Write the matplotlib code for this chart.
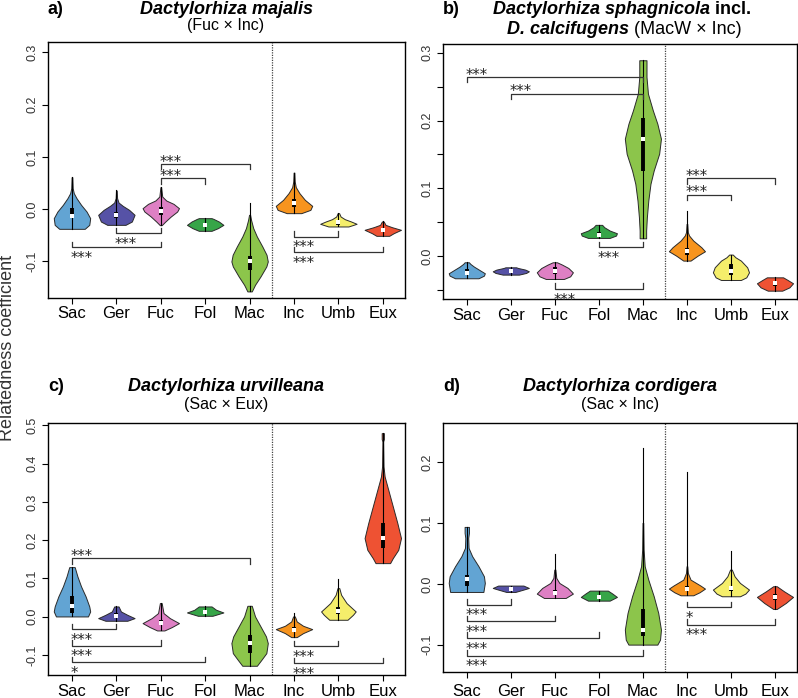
import matplotlib
matplotlib.use('Agg')
import matplotlib.pyplot as plt

plt.rcParams['font.family'] = ['Liberation Sans', 'DejaVu Sans']

categories = ['Sac', 'Ger', 'Fuc', 'Fol', 'Mac', 'Inc', 'Umb', 'Eux']
colors = ['#62a4d3', '#5652a6', '#de80c4', '#37a548', '#8cc54b',
          '#f7941e', '#f5ee6b', '#ee5233']

# violin outlines: (value, relative half width)
a_shape = [
    [(-0.0376, 0.7), (-0.030, 0.95), (-0.0172, 1.0), (-0.0045, 0.8), (0.0083, 0.5),
     (0.021, 0.25), (0.0306, 0.1), (0.040, 0.04), (0.061, 0.02)],
    [(-0.030, 0.5), (-0.0236, 0.85), (-0.0108, 1.0), (-0.0013, 0.7), (0.0064, 0.35),
     (0.0127, 0.12), (0.021, 0.04), (0.0357, 0.02)],
    [(-0.0306, 0.05), (-0.0236, 0.25), (-0.014, 0.55), (-0.0045, 0.9), (0.0019, 1.0),
     (0.0102, 0.7), (0.0166, 0.3), (0.0242, 0.08), (0.0421, 0.02)],
    [(-0.0414, 0.35), (-0.0363, 0.7), (-0.030, 1.0), (-0.0236, 0.75), (-0.0185, 0.45),
     (-0.0172, 0.35)],
    [(-0.1574, 0.12), (-0.1447, 0.3), (-0.1287, 0.6), (-0.1096, 0.92), (-0.1001, 1.0),
     (-0.0873, 0.93), (-0.0714, 0.7), (-0.0523, 0.4), (-0.0363, 0.2), (-0.0204, 0.08),
     (-0.0108, 0.03)],
    [(-0.0076, 0.4), (-0.0013, 0.9), (0.0064, 1.0), (0.0178, 0.6), (0.0306, 0.3),
     (0.0421, 0.1), (0.0529, 0.04), (0.070, 0.02)],
    [(-0.0331, 0.55), (-0.028, 1.0), (-0.0236, 0.7), (-0.0191, 0.35), (-0.014, 0.12),
     (-0.0076, 0.04)],
    [(-0.051, 0.35), (-0.0459, 0.6), (-0.0395, 1.0), (-0.0344, 0.5), (-0.030, 0.15),
     (-0.0236, 0.05)],
]
# (low, q1, median, q3, high)
a_box = [(-0.0376, -0.017, -0.014, 0.002, 0.061), (-0.030, -0.017, -0.012, -0.005, 0.036),
         (-0.031, -0.011, -0.003, 0.004, 0.042), (-0.0414, -0.034, -0.030, -0.026, -0.0172),
         (-0.157, -0.116, -0.100, -0.089, 0.0115), (-0.0076, 0.004, 0.0115, 0.019, 0.070),
         (-0.033, -0.030, -0.0236, -0.022, -0.0076), (-0.051, -0.043, -0.0395, -0.036, -0.0217)]
# (from, to, level, side, stars)
a_sig = [(3, 5, 0.0867, 'up', '***'), (3, 4, 0.0593, 'up', '***'),
         (2, 3, -0.0459, 'down', '***'), (1, 3, -0.0733, 'down', '***'),
         (6, 7, -0.0523, 'down', '***'), (6, 8, -0.0822, 'down', '***')]

b_shape = [
    [(-0.033, 0.65), (-0.0291, 0.95), (-0.0256, 1.0), (-0.0207, 0.7), (-0.0158, 0.4),
     (-0.0118, 0.2), (-0.0094, 0.12)],
    [(-0.0276, 0.45), (-0.0251, 0.85), (-0.0227, 1.0), (-0.0202, 0.8), (-0.0178, 0.4),
     (-0.0168, 0.3)],
    [(-0.034, 0.5), (-0.0301, 0.85), (-0.0242, 1.0), (-0.0178, 0.75), (-0.0128, 0.4),
     (-0.0094, 0.12)],
    [(0.0266, 0.6), (0.0301, 0.95), (0.0335, 1.0), (0.0375, 0.6), (0.0424, 0.3),
     (0.0459, 0.18)],
    [(0.0261, 0.18), (0.0375, 0.18), (0.0572, 0.22), (0.0819, 0.3), (0.1065, 0.42),
     (0.1262, 0.6), (0.1509, 0.9), (0.1731, 1.0), (0.1953, 0.8), (0.215, 0.55),
     (0.2396, 0.28), (0.2643, 0.2), (0.289, 0.2)],
    [(-0.0069, 0.2), (0.0005, 0.6), (0.0069, 1.0), (0.0128, 0.8), (0.0227, 0.35),
     (0.0301, 0.12), (0.035, 0.05), (0.0473, 0.02)],
    [(-0.0355, 0.55), (-0.0316, 0.85), (-0.0242, 1.0), (-0.0168, 0.9), (-0.0069, 0.55),
     (-0.002, 0.25), (0.002, 0.1)],
    [(-0.0513, 0.4), (-0.0464, 0.8), (-0.0404, 1.0), (-0.0355, 0.7), (-0.0316, 0.45)],
]
b_box = [(-0.033, -0.027, -0.0256, -0.020, -0.0094), (-0.0276, -0.025, -0.0227, -0.020, -0.0168),
         (-0.034, -0.026, -0.0217, -0.017, -0.0094), (0.0266, 0.029, 0.0316, 0.035, 0.0459),
         (0.0261, 0.126, 0.172, 0.204, 0.289), (-0.0069, 0.002, 0.0069, 0.012, 0.067),
         (-0.0355, -0.028, -0.0217, -0.012, 0.002), (-0.0513, -0.044, -0.0404, -0.037, -0.0316)]
b_sig = [(1, 5, 0.2643, 'up', '***'), (2, 5, 0.2396, 'up', '***'),
         (4, 5, 0.0128, 'down', '***'), (3, 5, -0.0488, 'down', '***'),
         (6, 8, 0.1149, 'up', '***'), (6, 7, 0.0902, 'up', '***')]

c_shape = [
    [(0.0009, 0.88), (0.0139, 1.0), (0.027, 0.95), (0.0531, 0.75), (0.0792, 0.5),
     (0.1053, 0.3), (0.1297, 0.15)],
    [(-0.0104, 0.6), (-0.0035, 1.0), (0.0052, 0.6), (0.0139, 0.25), (0.027, 0.12)],
    [(-0.0357, 0.2), (-0.027, 0.6), (-0.0165, 1.0), (-0.0035, 0.5), (0.0096, 0.15),
     (0.0226, 0.1), (0.0357, 0.05)],
    [(0.0026, 0.4), (0.0113, 1.0), (0.0183, 0.6), (0.027, 0.35)],
    [(-0.1279, 0.4), (-0.1123, 0.65), (-0.0949, 0.92), (-0.0688, 1.0), (-0.0513, 0.9),
     (-0.0252, 0.6), (0.0009, 0.3), (0.0287, 0.12)],
    [(-0.0531, 0.15), (-0.0426, 0.5), (-0.0322, 1.0), (-0.0235, 0.5), (-0.0122, 0.15),
     (0.0009, 0.05)],
    [(-0.0078, 0.5), (0.0052, 0.8), (0.0139, 0.95), (0.0357, 0.45), (0.0574, 0.15),
     (0.0748, 0.05)],
    [(0.1401, 0.4), (0.1532, 0.55), (0.1749, 0.85), (0.2054, 1.0), (0.2446, 0.8),
     (0.2881, 0.55), (0.3316, 0.3), (0.3664, 0.1), (0.3925, 0.04), (0.4578, 0.02),
     (0.4639, 0.06), (0.4795, 0.06)],
]
c_box = [(0.0009, 0.0096, 0.027, 0.053, 0.1297), (-0.0104, -0.004, 0.0026, 0.010, 0.027),
         (-0.0357, -0.022, -0.0165, -0.008, 0.0357), (0.0026, 0.008, 0.0113, 0.015, 0.027),
         (-0.1279, -0.095, -0.069, -0.047, 0.0287), (-0.0531, -0.040, -0.034, -0.027, 0.0096),
         (-0.0078, 0.006, 0.0157, 0.025, 0.098), (0.1401, 0.179, 0.205, 0.245, 0.4795)]
c_sig = [(1, 5, 0.1532, 'up', '***'), (1, 2, -0.0322, 'down', '***'),
         (1, 3, -0.0757, 'down', '***'), (1, 4, -0.1192, 'down', '*'),
         (6, 7, -0.0775, 'down', '***'), (6, 8, -0.121, 'down', '***')]

d_shape = [
    [(-0.0132, 0.92), (0.0016, 1.0), (0.0126, 0.95), (0.0291, 0.65), (0.0456, 0.3),
     (0.0593, 0.1), (0.0758, 0.08), (0.084, 0.12), (0.0939, 0.12)],
    [(-0.0132, 0.25), (-0.0093, 0.7), (-0.0066, 1.0), (-0.0027, 0.7)],
    [(-0.0231, 0.6), (-0.0159, 1.0), (-0.0066, 0.7), (0.0016, 0.25), (0.0099, 0.08),
     (0.0236, 0.03)],
    [(-0.0275, 0.6), (-0.0214, 1.0), (-0.0159, 0.75), (-0.011, 0.5)],
    [(-0.0999, 0.8), (-0.0917, 0.95), (-0.0752, 1.0), (-0.0478, 0.85), (-0.0203, 0.6),
     (0.0071, 0.3), (0.0291, 0.1), (0.0566, 0.04), (0.1005, 0.02)],
    [(-0.0187, 0.35), (-0.0137, 0.7), (-0.0077, 1.0), (-0.0027, 0.75), (0.0071, 0.2),
     (0.0181, 0.05), (0.0291, 0.02)],
    [(-0.0203, 0.5), (-0.0159, 0.8), (-0.0093, 1.0), (0.0016, 0.5), (0.0126, 0.2),
     (0.0236, 0.05)],
    [(-0.0412, 0.1), (-0.0313, 0.6), (-0.0214, 1.0), (-0.0121, 0.5), (-0.0038, 0.1)],
]
d_box = [(-0.0132, -0.004, 0.008, 0.015, 0.0939), (-0.0132, -0.010, -0.0077, -0.005, -0.0027),
         (-0.0231, -0.019, -0.0148, -0.010, 0.0494), (-0.0275, -0.024, -0.0214, -0.018, -0.011),
         (-0.0999, -0.086, -0.0752, -0.042, 0.2241), (-0.0187, -0.012, -0.0077, -0.003, 0.184),
         (-0.0203, -0.012, -0.007, -0.003, 0.0549), (-0.0412, -0.027, -0.0214, -0.017, -0.0038)]
d_sig = [(1, 2, -0.034, 'down', '***'), (1, 3, -0.0615, 'down', '***'),
         (1, 4, -0.089, 'down', '***'), (1, 5, -0.1181, 'down', '***'),
         (6, 7, -0.0384, 'down', '*'), (6, 8, -0.067, 'down', '***')]

W, H = 798, 698
fig = plt.figure(figsize=(W / 100, H / 100), dpi=100)
renderer = fig.canvas.get_renderer()

HALF = 0.41


def panel(box_px, ylim, yticks, minor, shape, boxes, sig, labelpad):
    l, t, r, b = box_px
    ax = fig.add_axes([l / W, 1 - b / H, (r - l) / W, (b - t) / H])
    ax.set_xlim(0.46, 8.5)
    ax.set_ylim(*ylim)
    for i, (prof, st, col) in enumerate(zip(shape, boxes, colors)):
        x = i + 1
        ys = [p[0] for p in prof]
        ws = [p[1] * HALF for p in prof]
        ax.fill_betweenx(ys, [x - w for w in ws], [x + w for w in ws],
                         facecolor=col, edgecolor='#2a2a2a', linewidth=0.7, zorder=2)
        lo, q1, med, q3, hi = st
        ax.plot([x, x], [lo, hi], color='black', lw=0.8, zorder=3)
        ax.plot([x, x], [q1, q3], color='black', lw=2.8, solid_capstyle='butt', zorder=4)
        ax.plot([x], [med], marker='s', color='white', ms=2.4, mew=0, zorder=5)
    ax.axvline(5.5, color='#444444', lw=0.9, linestyle=(0, (1, 1)), zorder=1)
    # brackets with significance stars
    tick = 5.5 * (ylim[1] - ylim[0]) / (b - t)
    for i, j, y, side, lab in sig:
        d = -tick if side == 'up' else tick
        ax.plot([i, i, j, j], [y + d, y, y, y + d], color='#333333', lw=0.9, zorder=3)
        off = -1.9 if side == 'up' else -11.3
        ax.annotate(lab, (i, y), xytext=(-1, off), textcoords='offset points',
                    ha='left', va='baseline', fontsize=10.5, color='#222222',
                    family='DejaVu Sans')
    ax.set_xticks(range(1, 9))
    ax.set_xticklabels(categories, fontsize=12)
    ax.set_yticks(yticks)
    ax.set_yticklabels(['%.1f' % v for v in yticks], fontsize=9, color='#333333',
                       rotation=90, va='center')
    if minor:
        ax.set_yticks(minor, minor=True)
        ax.tick_params(axis='y', which='minor', length=4, width=0.8, direction='out')
    ax.tick_params(axis='x', length=4, width=0.8, direction='out', pad=labelpad)
    ax.tick_params(axis='y', length=4, width=0.8, direction='out', pad=3)
    for s in ax.spines.values():
        s.set_linewidth(1.0)
    return ax


def line(pieces, xc, y_px, size):
    texts = []
    for s, weight, style in pieces:
        texts.append(fig.text(0, 0, s, fontsize=size, fontweight=weight,
                              fontstyle=style, va='baseline', ha='left'))
    widths = [tx.get_window_extent(renderer).width for tx in texts]
    x = xc - sum(widths) / 2
    for tx, w in zip(texts, widths):
        tx.set_position((x / W, 1 - y_px / H))
        x += w


panel((48, 42, 405, 298), (-0.170, 0.320), [-0.1, 0.0, 0.1, 0.2, 0.3], None,
      a_shape, a_box, a_sig, 1.5)
panel((443, 44, 797, 299), (-0.0636, 0.313), [0.0, 0.1, 0.2, 0.3],
      [-0.05, 0.05, 0.15, 0.25], b_shape, b_box, b_sig, 2.7)
panel((48, 423, 405, 675), (-0.152, 0.506), [-0.1, 0.0, 0.1, 0.2, 0.3, 0.4, 0.5], None,
      c_shape, c_box, c_sig, 2.5)
panel((443, 423, 797, 672), (-0.145, 0.265), [-0.1, 0.0, 0.1, 0.2], None,
      d_shape, d_box, d_sig, 4.5)

# panel letters and titles
for lab, x, y in [('a)', 48, 13.5), ('b)', 443, 13.5), ('c)', 48, 391), ('d)', 443, 391)]:
    fig.text(x / W, 1 - y / H, lab, fontsize=13, fontweight='bold', va='baseline')

line([('Dactylorhiza majalis', 'bold', 'italic')], 226, 13.5, 13)
line([('(Fuc × Inc)', 'normal', 'normal')], 226, 29.6, 11.5)
line([('Dactylorhiza sphagnicola', 'bold', 'italic'), (' incl.', 'bold', 'normal')],
     622, 13.5, 13)
line([('D. calcifugens', 'bold', 'italic'), (' (MacW × Inc)', 'normal', 'normal')],
     624, 34.5, 13)
line([('Dactylorhiza urvilleana', 'bold', 'italic')], 226, 391, 13)
line([('(Sac × Eux)', 'normal', 'normal')], 226, 408.6, 11.5)
line([('Dactylorhiza cordigera', 'bold', 'italic')], 620, 391, 13)
line([('(Sac × Inc)', 'normal', 'normal')], 620, 408.6, 11.5)

fig.text(8 / W, 1 - 348 / H, 'Relatedness coefficient', rotation=90, fontsize=13,
         color='#333333', ha='center', va='center')

fig.savefig('out.png', dpi=100)
